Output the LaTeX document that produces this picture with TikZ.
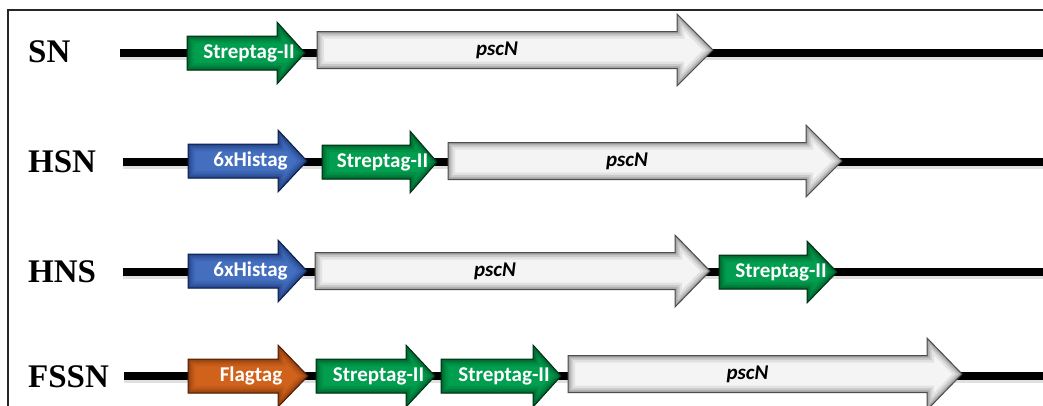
\documentclass[tikz,border=0pt]{standalone}
\usepackage{fontspec}
\setmainfont{Liberation Serif}
\newfontfamily\tagfont{Carlito}
\definecolor{strepbase}{RGB}{0,158,78}
\definecolor{strepedge}{RGB}{0,70,30}
\definecolor{hisbase}{RGB}{68,110,190}
\definecolor{hisedge}{RGB}{20,45,105}
\definecolor{flagbase}{RGB}{208,98,28}
\definecolor{flagedge}{RGB}{110,45,8}
\definecolor{pscbase}{RGB}{244,244,244}
\definecolor{pscedge}{RGB}{110,110,110}
\tikzset{
  tagtext/.style={text=white, font=\tagfont\bfseries\fontsize{21}{21}\selectfont, inner sep=0pt},
  genetext/.style={text=black, font=\tagfont\bfseries\itshape\fontsize{21}{21}\selectfont, inner sep=0pt},
  rowlabel/.style={font=\bfseries\fontsize{33}{33}\selectfont, anchor=west, inner sep=0pt},
  backbone/.style={line width=8pt, black},
  backshadow/.style={line width=4pt, black!12},
  frameline/.style={line width=2pt, black!85}
}
\newcommand\GArrowPath[6]{(#1,{#4-#5}) -- (#2,{#4-#5}) -- (#2,{#4-#6}) -- (#3,#4) -- (#2,{#4+#6}) -- (#2,{#4+#5}) -- (#1,{#4+#5}) -- cycle}
\newcommand\GArrow[8]{%
  \fill[#1] \GArrowPath{#3}{#4}{#5}{#6}{#7}{#8};
  \begin{scope}
    \clip \GArrowPath{#3}{#4}{#5}{#6}{#7}{#8};
    \draw[#2, line width=14pt, opacity=.13] \GArrowPath{#3}{#4}{#5}{#6}{#7}{#8};
    \draw[#2, line width=9pt, opacity=.2] \GArrowPath{#3}{#4}{#5}{#6}{#7}{#8};
    \draw[#2, line width=5pt, opacity=.28] \GArrowPath{#3}{#4}{#5}{#6}{#7}{#8};
    \draw[#2, line width=2pt, opacity=.4] \GArrowPath{#3}{#4}{#5}{#6}{#7}{#8};
  \end{scope}
  \draw[#2!70!black, line width=1pt, line join=miter] \GArrowPath{#3}{#4}{#5}{#6}{#7}{#8};
}
% #1 colour prefix, #2 node name, #3 x0, #4 head base, #5 tip, #6 y, #7 text
\newcommand\TagArrow[7]{%
  \GArrow{#1base}{#1edge}{#3}{#4}{#5}{#6}{17}{31}
  \node[tagtext] (#2) at ({(#3+#5)/2+3},#6) {#7};
}
% #1 node name, #2 x0, #3 head base, #4 tip, #5 y
\newcommand\GeneArrow[5]{%
  \GArrow{pscbase}{pscedge}{#2}{#3}{#4}{#5}{18.5}{36}
  \node[genetext] (#1) at ({(#2+#3)/2},#5) {pscN};
}
\begin{document}
\begin{tikzpicture}[x=1pt,y=-1pt]
\useasboundingbox (0,0) rectangle (1043,405);
\clip (0,0) rectangle (1043,405);
\fill[white] (0,0) rectangle (1043,405);
% frame
\coordinate (fbl) at (8,420);
\coordinate (ftl) at (8,10);
\coordinate (ftr) at (1060,10);
\draw[frameline] (fbl) -- (ftl) -- (ftr);

% ---- row 1 : SN
\node[rowlabel] (lsn) at (28,52) {SN};
\coordinate (b1s) at (120,53);
\coordinate (b1e) at (1060,53);
\draw[backshadow] ([yshift=-5pt]b1s) -- ([yshift=-5pt]b1e);
\draw[backbone] (b1s) -- (b1e);
\TagArrow{strep}{sn-s}{187}{277}{305}{53}{Streptag-II}
\GeneArrow{sn-p}{317}{677}{713}{50}

% ---- row 2 : HSN
\node[rowlabel] (lhsn) at (28,162) {HSN};
\coordinate (b2s) at (123,162);
\coordinate (b2e) at (1060,162);
\draw[backshadow] ([yshift=-5pt]b2s) -- ([yshift=-5pt]b2e);
\draw[backbone] (b2s) -- (b2e);
\TagArrow{his}{hsn-h}{188}{278}{307}{161}{6xHistag}
\TagArrow{strep}{hsn-s}{322}{410}{437}{162}{Streptag-II}
\GeneArrow{hsn-p}{448}{806}{842}{161}

% ---- row 3 : HNS
\node[rowlabel] (lhns) at (28,272) {HNS};
\coordinate (b3s) at (123,272);
\coordinate (b3e) at (1060,272);
\draw[backshadow] ([yshift=-5pt]b3s) -- ([yshift=-5pt]b3e);
\draw[backbone] (b3s) -- (b3e);
\TagArrow{his}{hns-h}{188}{278}{307}{271}{6xHistag}
\GeneArrow{hns-p}{315}{675}{710}{271}
\TagArrow{strep}{hns-s}{719}{807}{837}{272}{Streptag-II}

% ---- row 4 : FSSN
\node[rowlabel] (lfssn) at (28,377) {FSSN};
\coordinate (b4s) at (124,376);
\coordinate (b4e) at (1060,376);
\draw[backshadow] ([yshift=-5pt]b4s) -- ([yshift=-5pt]b4e);
\draw[backbone] (b4s) -- (b4e);
\TagArrow{flag}{fssn-f}{188}{278}{308}{376}{Flagtag}
\TagArrow{strep}{fssn-s1}{316}{406}{435}{376}{Streptag-II}
\TagArrow{strep}{fssn-s2}{441}{533}{561}{376}{Streptag-II}
\GeneArrow{fssn-p}{568}{927}{962}{374}
\end{tikzpicture}
\end{document}
